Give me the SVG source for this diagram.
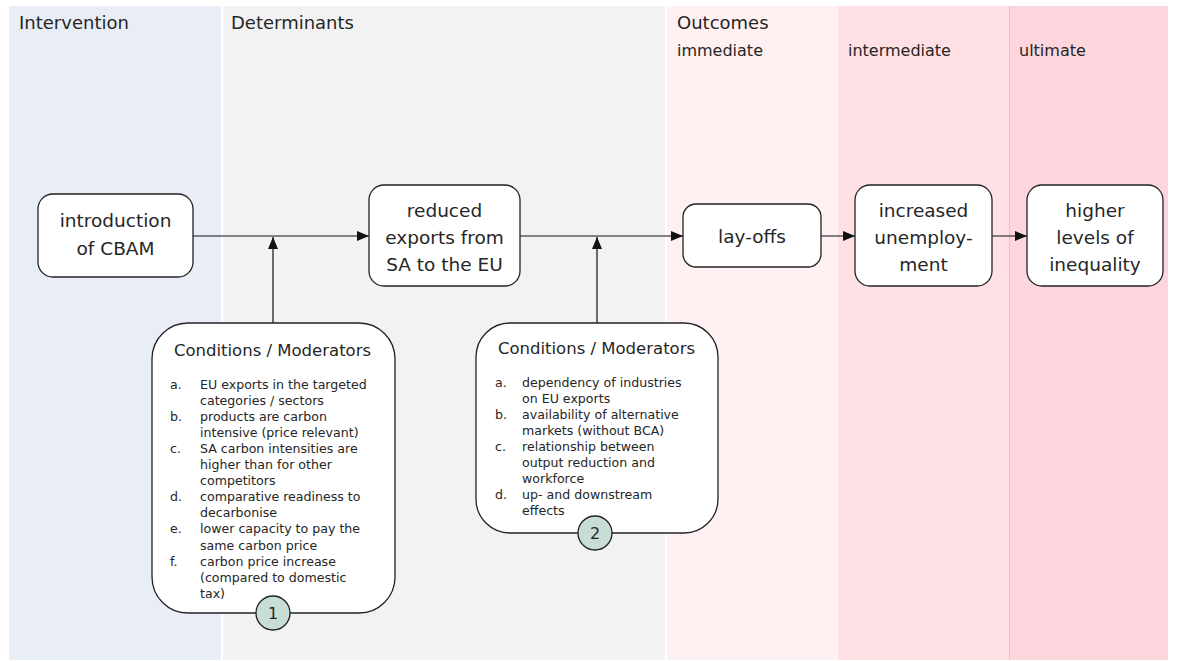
<svg xmlns="http://www.w3.org/2000/svg" width="1177" height="661" viewBox="0 0 1177 661">
<style>
text{font-family:"DejaVu Sans","Liberation Sans",sans-serif;fill:#262626}
.hd{font-size:18px}
.sub{font-size:16px}
.node{fill:#ffffff;stroke:#222222;stroke-width:1.3}
.nt{font-size:18.5px;text-anchor:middle}
.ct{font-size:16.5px;text-anchor:middle}
.li{font-size:12.6px}
.conn{stroke:#111111;stroke-width:1.2;fill:none}
.num{fill:#c9ddd7;stroke:#222222;stroke-width:1.3}
.nn{font-size:16px;text-anchor:middle}
</style>
<defs>
<marker id="ah" viewBox="0 0 12 10" refX="12" refY="5" markerWidth="12" markerHeight="10" markerUnits="userSpaceOnUse" orient="auto">
<path d="M0,0 L12,5 L0,10 Z" fill="#111111"/>
</marker>
</defs>
<rect width="1177" height="661" fill="#ffffff"/>
<g id="panels">
<rect x="9" y="6" width="212" height="654" fill="#e9edf5"/>
<rect x="223" y="6" width="442" height="654" fill="#f2f2f2"/>
<rect x="667" y="6" width="171" height="654" fill="#fff0f2"/>
<rect x="838" y="6" width="171" height="654" fill="#ffe0e5"/>
<rect x="1009" y="6" width="159" height="654" fill="#fdd5dc"/>
<line x1="1009.5" y1="6" x2="1009.5" y2="660" stroke="#f4b9c7" stroke-width="1"/>
<text class="hd" x="19" y="29">Intervention</text>
<text class="hd" x="231" y="29">Determinants</text>
<text class="hd" x="677" y="29">Outcomes</text>
<text class="sub" x="677" y="56">immediate</text>
<text class="sub" x="848" y="56">intermediate</text>
<text class="sub" x="1019" y="56">ultimate</text>
</g>
<g id="connectors">
<line class="conn" x1="193" y1="236" x2="369" y2="236" marker-end="url(#ah)"/>
<line class="conn" x1="273" y1="323" x2="273" y2="237" marker-end="url(#ah)"/>
<line class="conn" x1="520" y1="236" x2="683" y2="236" marker-end="url(#ah)"/>
<line class="conn" x1="597" y1="323" x2="597" y2="237" marker-end="url(#ah)"/>
<line class="conn" x1="821" y1="236" x2="855" y2="236" marker-end="url(#ah)"/>
<line class="conn" x1="992" y1="236" x2="1027" y2="236" marker-end="url(#ah)"/>
</g>
<g id="n-cbam">
<rect class="node" x="38" y="194" width="155" height="83" rx="15"/>
<text class="nt" x="115.5" y="227">introduction</text>
<text class="nt" x="115.5" y="255">of CBAM</text>
</g>
<g id="n-exports">
<rect class="node" x="369" y="185" width="151" height="101" rx="15"/>
<text class="nt" x="444.5" y="217">reduced</text>
<text class="nt" x="444.5" y="244">exports from</text>
<text class="nt" x="444.5" y="271">SA to the EU</text>
</g>
<g id="n-layoffs">
<rect class="node" x="683" y="204" width="138" height="63" rx="13"/>
<text class="nt" x="752" y="243">lay-offs</text>
</g>
<g id="n-unemployment">
<rect class="node" x="855" y="185" width="137" height="101" rx="15"/>
<text class="nt" x="923.5" y="217">increased</text>
<text class="nt" x="923.5" y="244">unemploy-</text>
<text class="nt" x="923.5" y="271">ment</text>
</g>
<g id="n-inequality">
<rect class="node" x="1027" y="185" width="136" height="101" rx="15"/>
<text class="nt" x="1095" y="217">higher</text>
<text class="nt" x="1095" y="244">levels of</text>
<text class="nt" x="1095" y="271">inequality</text>
</g>
<g id="n-cond1">
<rect class="node" x="152" y="323" width="243" height="290" rx="36"/>
<text class="ct" x="272.5" y="356">Conditions / Moderators</text>
<g class="li">
<text x="170" y="388.5">a.</text><text x="200" y="388.5">EU exports in the targeted</text>
<text x="200" y="404.6">categories / sectors</text>
<text x="170" y="420.7">b.</text><text x="200" y="420.7">products are carbon</text>
<text x="200" y="436.8">intensive (price relevant)</text>
<text x="170" y="452.9">c.</text><text x="200" y="452.9">SA carbon intensities are</text>
<text x="200" y="469">higher than for other</text>
<text x="200" y="485.1">competitors</text>
<text x="170" y="501.2">d.</text><text x="200" y="501.2">comparative readiness to</text>
<text x="200" y="517.3">decarbonise</text>
<text x="170" y="533.4">e.</text><text x="200" y="533.4">lower capacity to pay the</text>
<text x="200" y="549.5">same carbon price</text>
<text x="170" y="565.6">f.</text><text x="200" y="565.6">carbon price increase</text>
<text x="200" y="581.7">(compared to domestic</text>
<text x="200" y="597.8">tax)</text>
</g>
<circle class="num" cx="273" cy="613" r="17"/>
<text class="nn" x="273" y="619">1</text>
</g>
<g id="n-cond2">
<rect class="node" x="476" y="323" width="242" height="210" rx="34"/>
<text class="ct" x="596.5" y="354">Conditions / Moderators</text>
<g class="li">
<text x="495" y="387">a.</text><text x="522" y="387">dependency of industries</text>
<text x="522" y="403">on EU exports</text>
<text x="495" y="419">b.</text><text x="522" y="419">availability of alternative</text>
<text x="522" y="435">markets (without BCA)</text>
<text x="495" y="451">c.</text><text x="522" y="451">relationship between</text>
<text x="522" y="467">output reduction and</text>
<text x="522" y="483">workforce</text>
<text x="495" y="499">d.</text><text x="522" y="499">up- and downstream</text>
<text x="522" y="515">effects</text>
</g>
<circle class="num" cx="595" cy="533" r="17"/>
<text class="nn" x="595" y="539">2</text>
</g>
</svg>
